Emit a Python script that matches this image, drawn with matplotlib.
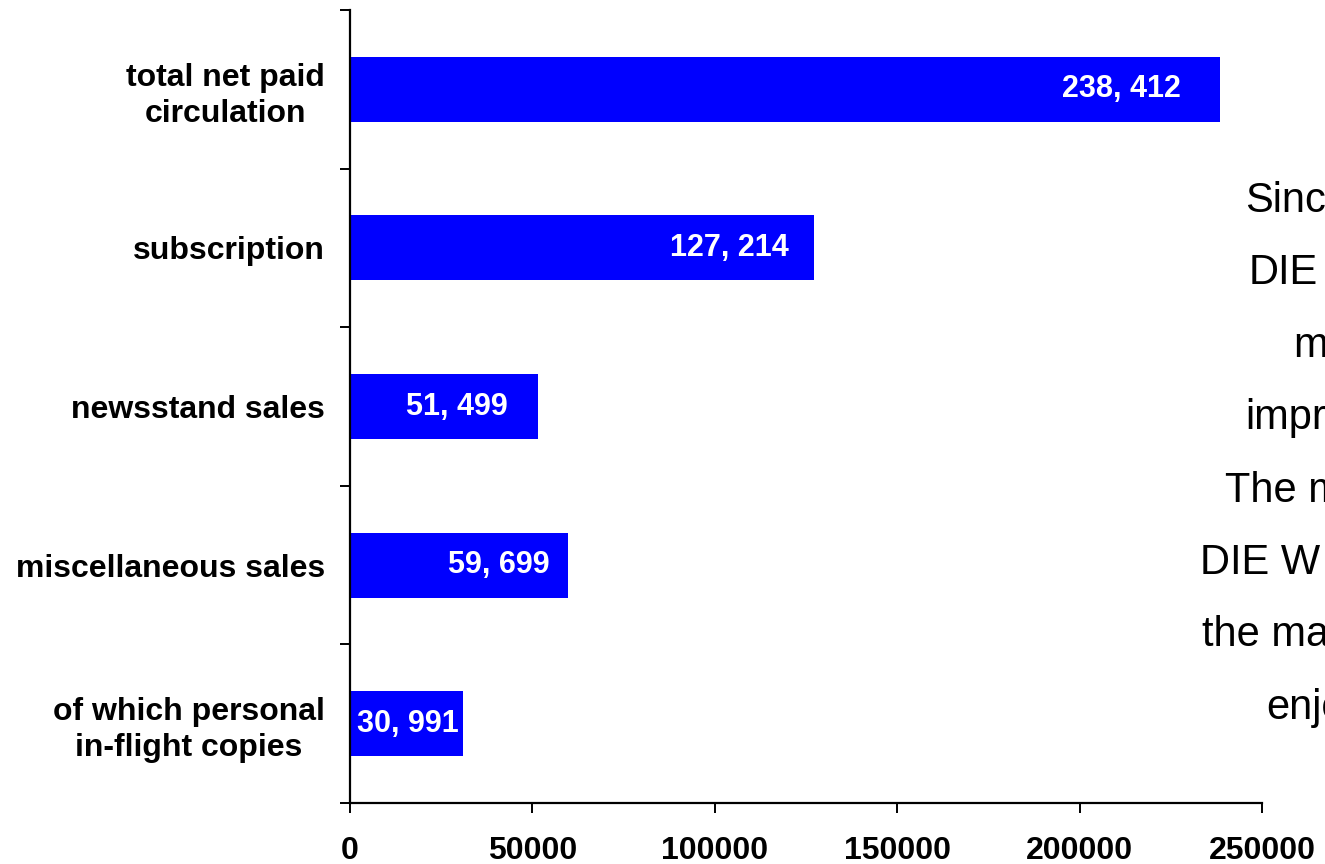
import matplotlib
matplotlib.use("Agg")
import matplotlib.pyplot as plt
from matplotlib.ticker import FixedLocator

plt.rcParams['font.family'] = ['Liberation Sans', 'DejaVu Sans']

categories = [
    "total net paid\ncirculation",
    "subscription",
    "newsstand sales",
    "miscellaneous sales",
    "of which personal\nin-flight copies",
]
values = [238412, 127214, 51499, 59699, 30991]
value_labels = ["238, 412", "127, 214", "51, 499", "59, 699", "30, 991"]
x_ticks = [0, 50000, 100000, 150000, 200000, 250000]

side_lines = ["Sinc", "DIE", "m", "impr", "The m", "DIE W", "the ma", "enjo"]

W, H = 1325, 864
fig = plt.figure(figsize=(W / 100, H / 100), dpi=100)
ax = fig.add_axes([350 / W, 61 / H, (1262 - 350) / W, (803 - 10) / H])

ypos = list(range(len(categories)))
ax.barh(ypos, values, height=0.41, color="#0000FF", zorder=2)

ax.set_xlim(0, 250000)
ax.set_ylim(len(categories) - 0.5, -0.5)

for sp in ("top", "right"):
    ax.spines[sp].set_visible(False)
for sp in ("left", "bottom"):
    ax.spines[sp].set_linewidth(1.6)

# tick marks at category boundaries, labels at category centres
ax.yaxis.set_major_locator(FixedLocator([i - 0.5 for i in range(len(categories) + 1)]))
ax.tick_params(axis="y", which="major", direction="out", length=7, width=1.4, labelleft=False)
ax.set_yticks(ypos, minor=True)
ax.set_yticklabels(categories, minor=True, fontsize=23, fontweight="bold",
                   multialignment="center", linespacing=1.25)
ax.tick_params(axis="y", which="minor", length=0, pad=18)

ax.set_xticks(x_ticks)
ax.set_xticklabels([str(t) for t in x_ticks], fontsize=23, fontweight="bold")
ax.tick_params(axis="x", direction="out", length=7, width=1.4, pad=17)

# value labels inside the bar ends
offsets = [-39, -25, -30, -18, -4]
for y, v, lab, off in zip(ypos, values, value_labels, offsets):
    ax.annotate(lab, xy=(v, y), xytext=(off * 0.72, 0), textcoords="offset points",
                ha="right", va="center", color="white", fontsize=22, fontweight="bold",
                zorder=3)

# side text, clipped at the figure edge
lefts = [1245, 1249, 1293, 1245, 1225, 1200, 1202, 1266]
for i, (s, lx) in enumerate(zip(side_lines, lefts)):
    fig.text(lx / W, 1 - (212 + 72.4 * i) / H, s, ha="left", va="baseline",
             fontsize=30, color="black")

fig.savefig("out.png", dpi=100)
